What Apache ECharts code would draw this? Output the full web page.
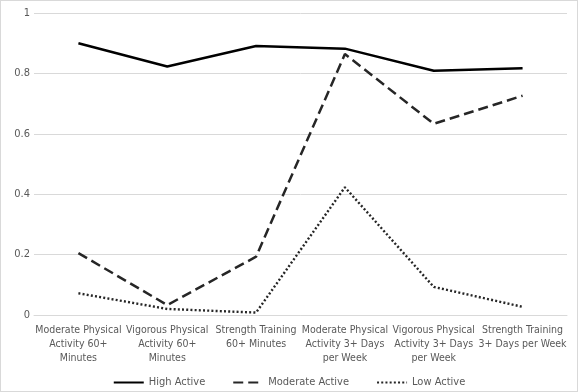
<!DOCTYPE html>
<html><head><meta charset="utf-8">
<script src="https://cdn.jsdelivr.net/npm/echarts@6/dist/echarts.min.js"></script>
<style>html,body{margin:0;padding:0;background:#fff}#c{width:578px;height:392px;box-sizing:border-box;border:1px solid #d9d9d9}</style>
</head><body><div id="c"></div>
<script>
const categories = ["Moderate Physical\nActivity 60+\nMinutes","Vigorous Physical\nActivity 60+\nMinutes","Strength Training\n60+ Minutes","Moderate Physical\nActivity 3+ Days\nper Week","Vigorous Physical\nActivity 3+ Days\nper Week","Strength Training\n3+ Days per Week"];
const highActive = [0.90, 0.823, 0.891, 0.882, 0.809, 0.817];
const moderateActive = [0.205, 0.033, 0.193, 0.864, 0.633, 0.726];
const lowActive = [0.072, 0.02, 0.008, 0.423, 0.093, 0.027];
const yTicks = {min:0, max:1, interval:0.2};

const chart = echarts.init(document.getElementById('c'));
const font = '"DejaVu Sans Condensed", "Liberation Sans", sans-serif';
chart.setOption({
  animation:false,
  grid:{left:33,right:10,top:12,bottom:76},
  xAxis:{type:'category',data:categories,boundaryGap:true,
    axisLine:{lineStyle:{color:'#d9d9d9'}},axisTick:{show:false},
    axisLabel:{color:'#595959',fontFamily:font,fontSize:10.5,lineHeight:14,interval:0,margin:8}},
  yAxis:{type:'value',min:yTicks.min,max:yTicks.max,interval:yTicks.interval,
    axisLine:{show:false},axisTick:{show:false},
    splitLine:{lineStyle:{color:'#d9d9d9'}},
    axisLabel:{color:'#595959',fontFamily:font,fontSize:11,margin:4,formatter:v=>String(+v.toFixed(1))}},
  legend:{top:371,left:'center',itemWidth:30,itemHeight:10,itemGap:27,
    itemStyle:{opacity:0},
    textStyle:{color:'#595959',fontFamily:font,fontSize:11}},
  series:[
    {name:'High Active',type:'line',data:highActive,symbol:'none',lineStyle:{color:'#000',width:2.5,type:'solid'}},
    {name:'Moderate Active',type:'line',data:moderateActive,symbol:'none',lineStyle:{color:'#262626',width:2.5,type:[10,5]}},
    {name:'Low Active',type:'line',data:lowActive,symbol:'none',lineStyle:{color:'#262626',width:2.4,type:[2,2.2]}}
  ]
});
</script></body></html>
